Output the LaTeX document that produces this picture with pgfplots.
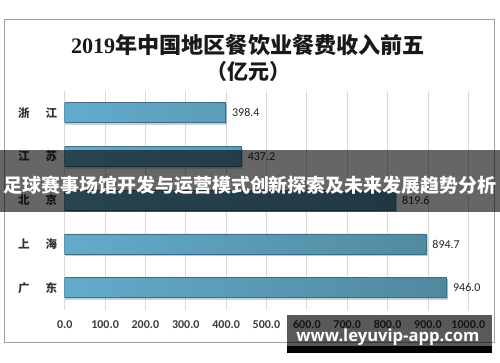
\documentclass[border=0pt]{standalone}
\usepackage{fontspec}
\usepackage{graphicx}
\usepackage{pgfplots}
\pgfplotsset{compat=1.18}
\usetikzlibrary{shadows}
\setmainfont{Carlito}
\newfontfamily\cjk{Noto Sans CJK SC}
\newfontfamily\sernum{Liberation Serif}
\newfontfamily\wm{Open Sans}
\definecolor{barL}{RGB}{99,171,204}
\definecolor{barR}{RGB}{80,136,158}
\definecolor{barE}{RGB}{62,110,132}
\definecolor{tickc}{RGB}{64,60,56}
\definecolor{framec}{RGB}{160,160,160}
\begin{document}
\begin{tikzpicture}[x=1pt,y=1pt]
\useasboundingbox (0,0) rectangle (500,362);
\fill[white] (0,0) rectangle (500,362);
\draw[framec, line width=0.9pt] (4,20) rectangle (494,343);
\node[font=\cjk\bfseries, text=black!90] at (248,317) {\resizebox{354pt}{!}{{\sernum\bfseries 2019}年中国地区餐饮业餐费收入前五}};
\node[font=\cjk\bfseries\fontsize{21}{21}\selectfont, text=black!90] at (248,290) {（亿元）};
\begin{axis}[
  at={(64.7pt,52.4pt)}, anchor=south west,
  scale only axis, width=403.6pt, height=218.8pt,
  xbar, bar width=20pt,
  xmin=0, xmax=1000, ymin=-0.5, ymax=4.5,
  ytick={0,1,2,3,4},
  yticklabels={广\hspace{16pt}东, 上\hspace{16pt}海, 北\hspace{16pt}京, 江\hspace{16pt}苏, 浙\hspace{16pt}江},
  xtick={0,100,...,1000},
  xmajorgrids, major grid style={color=black!15, line width=0.8pt},
  axis line style={draw=none},
  major tick length=0pt,
  /pgf/number format/.cd, fixed, fixed zerofill, precision=1, 1000 sep={}, assume math mode=true,
  /pgfplots/.cd,
  xticklabel style={font=\bfseries\fontsize{12}{12}\selectfont, text=tickc},
  xticklabel shift=7pt,
  yticklabel style={font=\cjk\bfseries\fontsize{11.5}{12}\selectfont, text=black!80},
  yticklabel shift=4pt,
  nodes near coords,
  every node near coord/.append style={font=\fontsize{12}{12}\selectfont, text=black!85, anchor=west, xshift=3pt},
]
\addplot[draw=barE, line width=0.6pt, left color=barL, right color=barR,
  drop shadow={shadow xshift=1pt, shadow yshift=-1.5pt, opacity=0.25}]
  coordinates {(946.0,0) (894.7,1) (819.6,2) (437.2,3) (398.4,4)};
\end{axis}
\fill[black, opacity=0.6] (0,150.5) rectangle (500,212);
\node[text=white, font=\cjk\bfseries] at (250,177) {\resizebox{493pt}{!}{足球赛事场馆开发与运营模式创新探索及未来发展趋势分析}};
\fill[black, opacity=0.65] (287,16.3) rectangle (492,47);
\fill[black] (287,9.3) rectangle (492,16.3);
\node[text=white, font=\wm\bfseries] at (388,25) {\resizebox{183pt}{!}{www.leyuvip-app.com}};
\end{tikzpicture}
\end{document}
